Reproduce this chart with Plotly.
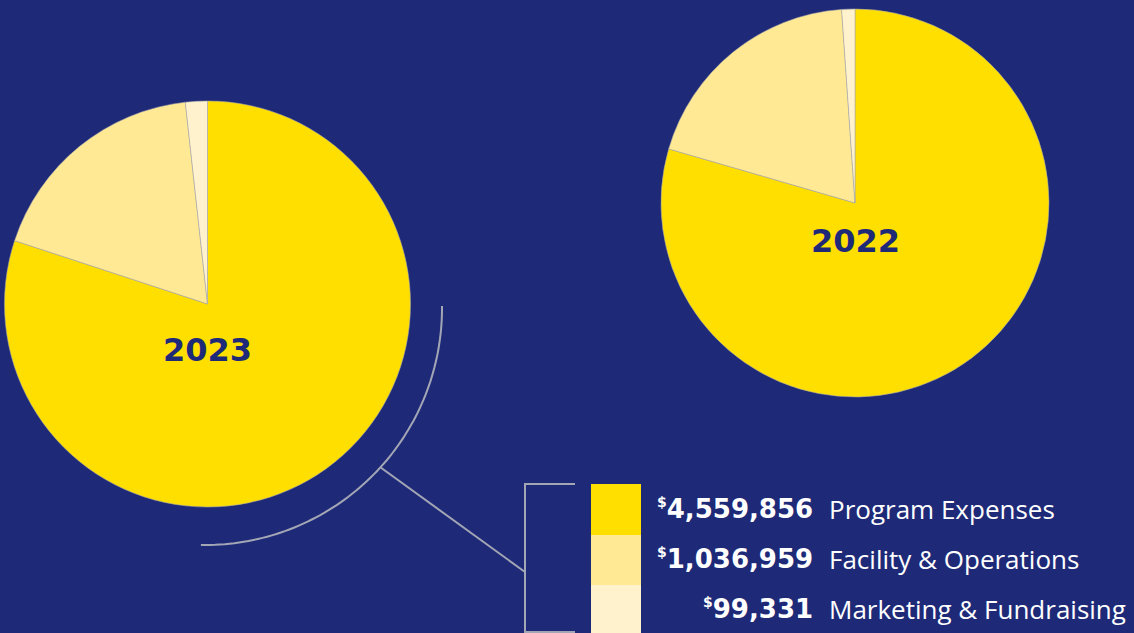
import numpy as np
import plotly.graph_objects as go

# ---- data ----
categories = ["Program Expenses", "Facility & Operations", "Marketing & Fundraising"]
values_2023 = [4559856, 1036959, 99331]
values_2022 = [79.5, 19.4, 1.1]   # shares
years = ["2023", "2022"]
colors = ["#FFDF00", "#FFE994", "#FFF2CC"]

BG = "#1E2A78"
W, H = 1134, 633
NUM_FONT = "DejaVu Sans"
LBL_FONT = "Open Sans"

fig = go.Figure()

def dom(cx, cy, r):
    return dict(x=[(cx - r) / W, (cx + r) / W], y=[(H - cy - r) / H, (H - cy + r) / H])

for vals, yr, (cx, cy, r) in [(values_2023, years[0], (207.5, 304, 203)),
                              (values_2022, years[1], (855, 203, 194))]:
    fig.add_trace(go.Pie(
        labels=categories, values=vals, sort=False, direction="clockwise", rotation=0,
        marker=dict(colors=colors, line=dict(color="rgba(170,170,170,0.8)", width=0.7)),
        textinfo="none", hoverinfo="label+value+percent", showlegend=False,
        domain=dom(cx, cy, r),
    ))

# hidden pixel axes for decorations
fig.update_layout(
    xaxis=dict(range=[0, W], visible=False, fixedrange=True),
    yaxis=dict(range=[H, 0], visible=False, fixedrange=True),
)
fig.add_trace(go.Scatter(x=[None], y=[None], showlegend=False, hoverinfo="skip"))

shapes = []
line_col = "#A3A6B4"
# arc around 2023 pie
acx, acy, ar = 205, 308, 237
t = np.linspace(np.deg2rad(-0.5), np.deg2rad(91), 80)
ax_ = acx + ar * np.cos(t)
ay_ = acy + ar * np.sin(t)
path = "M " + " L ".join(f"{a:.1f},{b:.1f}" for a, b in zip(ax_, ay_))
shapes.append(dict(type="path", path=path, xref="x", yref="y",
                   line=dict(color=line_col, width=2)))
# connector
shapes.append(dict(type="line", x0=380, y0=467, x1=525, y1=572, xref="x", yref="y",
                   line=dict(color=line_col, width=2)))
# bracket
shapes.append(dict(type="path", path="M 575,484 L 525,484 L 525,632 L 575,632",
                   xref="x", yref="y", line=dict(color=line_col, width=2)))

# legend swatches
row_top = [484, 535, 585]
row_h = [51, 50, 50]
for i, c in enumerate(colors):
    shapes.append(dict(type="rect", x0=591, x1=641, y0=row_top[i], y1=row_top[i] + row_h[i],
                       xref="x", yref="y", fillcolor=c, line=dict(width=0)))

annotations = []
for i, (cat, v) in enumerate(zip(categories, values_2023)):
    yc = row_top[i] + row_h[i] / 2 - 1
    annotations.append(dict(
        x=815, y=yc, xref="x", yref="y", xanchor="right", yanchor="middle",
        text=f"<b><sup><span style='font-size:14px'>$</span></sup>{v:,}</b>", showarrow=False,
        font=dict(family=NUM_FONT, size=26, color="white")))
    annotations.append(dict(
        x=827, y=yc, xref="x", yref="y", xanchor="left", yanchor="middle",
        text=cat, showarrow=False,
        font=dict(family=LBL_FONT, size=26, color="white")))

annotations.append(dict(x=207.5, y=350, xref="x", yref="y", text=f"<b>{years[0]}</b>",
                        showarrow=False, font=dict(family=NUM_FONT, size=32, color=BG)))
annotations.append(dict(x=855, y=241, xref="x", yref="y", text=f"<b>{years[1]}</b>",
                        showarrow=False, font=dict(family=NUM_FONT, size=32, color=BG)))

fig.update_layout(
    width=W, height=H, margin=dict(l=0, r=0, t=0, b=0),
    paper_bgcolor=BG, plot_bgcolor=BG,
    shapes=shapes, annotations=annotations,
)

fig.write_html("out.html", config={"displayModeBar": False},
               post_script="document.body.style.margin='0';document.body.style.overflow='hidden';")
